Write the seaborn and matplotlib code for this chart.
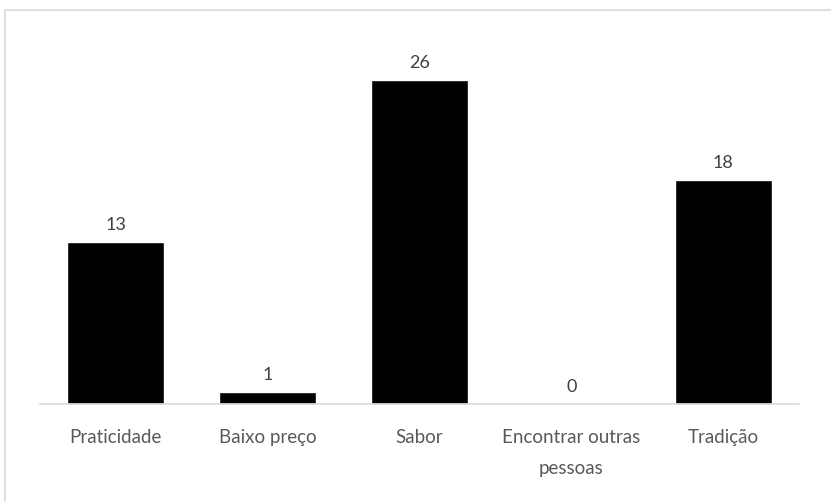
import matplotlib
matplotlib.use("Agg")
import matplotlib.pyplot as plt
import seaborn as sns
import pandas as pd
from matplotlib.patches import Rectangle

# Data
categories = ["Praticidade", "Baixo preço", "Sabor", "Encontrar outras\npessoas", "Tradição"]
values = [13, 1, 26, 0, 18]

df = pd.DataFrame({"categoria": categories, "valor": values})

sns.set_theme(style="white")
plt.rcParams["font.family"] = ["Lato", "DejaVu Sans"]

fig = plt.figure(figsize=(8.31, 5.02), dpi=100)
ax = fig.add_axes([40 / 831, 97 / 502, 759 / 831, 349 / 502])

sns.barplot(data=df, x="categoria", y="valor", color="black", width=0.64,
            saturation=1, ax=ax)

ax.set_ylim(0, 28)
ax.set_xlim(-0.5, len(categories) - 0.5)
ax.set_xlabel("")
ax.set_ylabel("")
ax.set_yticks([])
for s in ["top", "left", "right"]:
    ax.spines[s].set_visible(False)
ax.spines["bottom"].set_color("#d9d9d9")
ax.spines["bottom"].set_linewidth(1.2)
ax.tick_params(axis="x", length=0, pad=17, labelsize=13.5, labelcolor="#595959")
for lbl in ax.get_xticklabels():
    lbl.set_linespacing(2.0)

for cont in ax.containers:
    ax.bar_label(cont, padding=7, fontsize=13, color="#404040")

# outer chart frame (partly outside the image)
fig.patches.append(Rectangle((5 / 831, -0.1), 1.0, (502 - 11) / 502 + 0.1,
                             transform=fig.transFigure, fill=False,
                             edgecolor="#d9d9d9", linewidth=1.2))

fig.savefig("out.png", dpi=100)
